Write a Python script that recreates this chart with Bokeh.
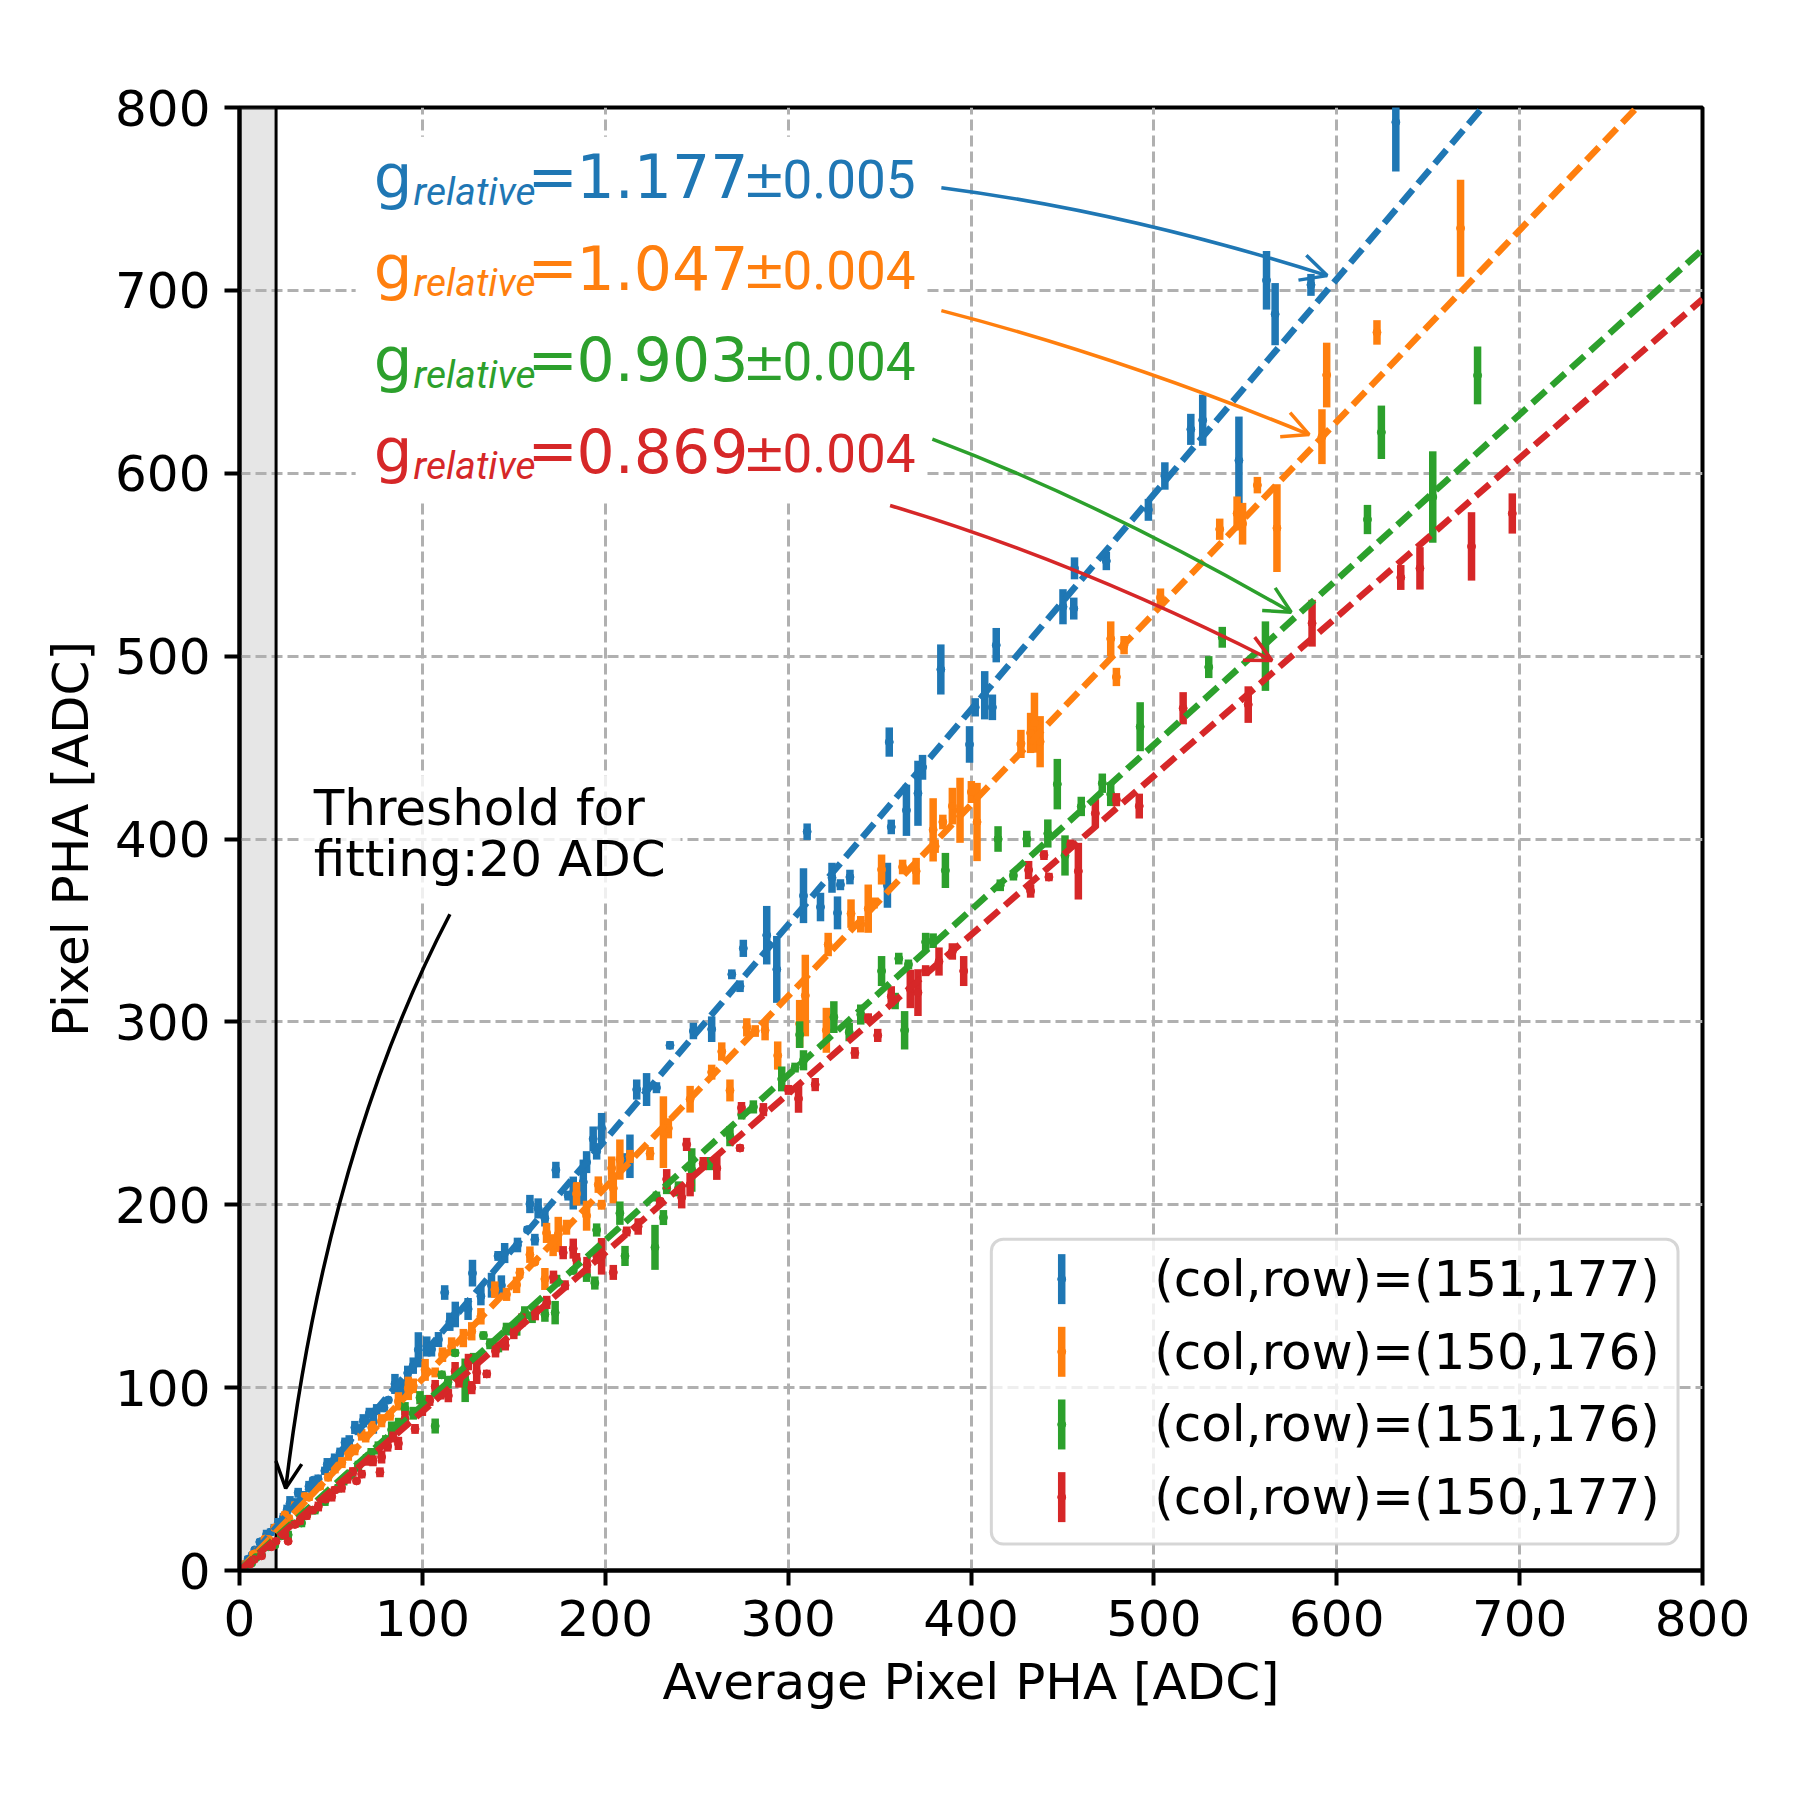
import numpy as np
from bokeh.plotting import figure
from bokeh.models import ColumnDataSource, BoxAnnotation, Arrow, OpenHead, FixedTicker, Range1d
from bokeh.core.properties import value
from bokeh.embed import file_html
from bokeh.resources import INLINE

# ---------------- data ----------------
blue_x = [2, 4.7, 7, 8.4, 11.1, 13, 14.8, 17, 19, 21.2, 24, 26, 27.6, 30, 32.1, 35, 38, 40.3, 43, 46.7,
          48, 52, 55, 57.7, 60, 63.1, 65, 67.7, 71, 73.2, 75, 79, 81.4, 85, 88.7, 92, 95, 97.8, 102.4, 105,
          108.8, 112.2, 115, 118, 125, 127.4, 132, 137.8, 141.4, 143.2, 145, 152, 157.5, 158.8, 161.5, 163.3,
          167, 173, 179.7, 182.5, 188, 189.8, 193.4, 195.3, 198, 210.8, 213.5, 217.2, 222.6, 228, 235.4,
          248.2, 258.2, 269.2, 273.7, 275.5, 288.3, 293.8, 308.4, 310.4, 317.7, 324, 327, 328.6, 333.8,
          354.3, 355.3, 356.4, 364.7, 371, 373.5, 383.5, 399.2, 402.3, 407.5, 411.7, 413.8, 450.3, 456.2,
          456.6, 474, 497, 506, 520.2, 526.7, 546.5, 561.6, 566.3, 585.9, 632.3]
blue_y = [3, 6.2, 8.5, 11.2, 15.6, 16, 19.6, 21, 23, 26, 29, 33, 36.6, 37, 42.5, 41, 46, 49.4, 50, 54.5,
          58, 61, 64.5, 70, 71, 78.2, 77, 81.9, 86, 81.2, 88, 89, 93.2, 102, 98.5, 108, 112, 120.7, 122.5, 121,
          126.3, 152, 136, 140, 143, 162.6, 150, 156, 172, 155.9, 173.6, 178, 186.4, 200.4, 180.9, 198,
          192.6, 219, 205, 206.4, 212.4, 223.3, 236, 229.2, 242, 223.7, 226.5, 263, 263, 264, 287.2,
          295, 296, 326, 319.5, 340.2, 347.4, 328.7, 369, 404, 362.8, 378.8, 359.6, 375, 379.2,
          374.7, 453, 406.6, 415.7, 425, 439.2, 492.7, 451.7, 472, 478.6, 472, 506, 527, 526,
          548, 552, 580, 598.5, 624, 629, 607, 705.5, 687, 703, 792]
blue_e = [1.5, 1.8, 1.5, 1.8, 1.8, 2, 2.7, 2, 2.5, 2.7, 2.5, 3, 4.1, 2.5, 2.7, 2.5, 3, 1.8, 2.5, 2.3,
          3.5, 3, 2.7, 2.7, 3, 3.6, 3, 3.6, 3, 6.4, 3, 2.5, 1.8, 5.5, 5.5, 4, 4.5, 9.6, 5.5, 4,
          4.1, 4, 5, 7, 6, 7.3, 5, 6.8, 2.7, 5.5, 5.5, 4, 2, 5, 3.2, 5.5,
          4.5, 4.5, 2.7, 9, 12.3, 6, 6.8, 4.5, 8.2, 4.5, 11.9, 5.5, 9, 3, 2.3,
          4.5, 7, 2.7, 3.2, 4.7, 16, 18.3, 15, 4.5, 7.8, 8.2, 9, 3, 4,
          12.3, 8, 4, 14, 17.8, 6.8, 13.7, 10, 5, 13.2, 7, 9.4, 9.6, 6,
          6, 5, 6, 7.5, 8.5, 14, 24, 16, 17, 6, 27]

orange_x = [3, 7.5, 10, 13.9, 16, 19.3, 22, 24.8, 27, 30.3, 33, 35.8, 38, 41.2, 44, 48.5, 52.2, 56, 59.5, 63,
            66.8, 69, 72.3, 77.7, 82.3, 86.9, 92.3, 95, 101.5, 107, 111, 116, 122.4, 127, 132, 139.6, 146,
            151.5, 153.3, 158.8, 161.5, 167, 167.9, 171.5, 174.3, 178.8, 184.3, 189.8, 196.2, 198, 203.5,
            204.4, 208, 213.5, 224.5, 231.8, 234.5, 246.4, 258.2, 263.7, 268.2, 277.4, 282, 287.4, 294.3,
            306.3, 309.4, 320.9, 321.9, 334.4, 339.7, 343.8, 347, 351.1, 362.6, 370, 379.3, 380.4, 384.6,
            389.8, 394, 400.2, 403.3, 427.3, 432.6, 434.7, 437.8, 476.4, 479.5, 483.7, 503.6, 536, 545.5,
            548.5, 556.6, 567.3, 591.9, 594.5, 622, 667.7]
orange_y = [3.5, 8.8, 11, 17.2, 17, 23.4, 22.5, 30.5, 28.5, 35.5, 35, 40.4, 40, 46.7, 46, 51, 56.3, 59, 64.5, 66,
            74.2, 73, 78.2, 81.9, 84.6, 92.5, 99.6, 101, 109.7, 108.3, 118, 122.5, 127.1, 130.8, 139, 153.6, 151,
            156.2, 162.8, 172.7, 168.6, 159.4, 184.6, 177.9, 183.8, 187.7, 206, 194, 211, 200, 220,
            209, 224.7, 226.4, 228, 239.7, 241.8, 257.7, 272.5, 283.8, 262.5, 297, 295, 295.4, 281.6,
            299, 314.4, 295.4, 342.3, 359.2, 353.4, 361.9, 365, 383.3, 384.7, 382.4, 405, 396, 409.3,
            418, 415.7, 425.7, 409.3, 452, 458, 463.6, 453.2, 509.5, 488.6, 506, 532, 569.4, 578,
            572.4, 593.5, 570, 620, 653.7, 677, 734]
orange_e = [1.2, 1.8, 1.5, 1.8, 1.5, 1.8, 1.5, 1.8, 2, 2.3, 2, 2.3, 2, 1.4, 2, 2.3, 3.2, 3, 4.5, 3,
            3.2, 3, 3.6, 3.6, 2.7, 5, 6.4, 4, 6, 2.7, 4, 5, 5, 5, 4.5, 4.5, 3.6,
            4.5, 2.7, 4.5, 1.4, 6, 5.5, 6, 9.6, 4.1, 6.4, 8.2, 4.5, 2.7, 6.4,
            8.2, 11, 3.6, 3.6, 19.6, 5.5, 7.3, 4.1, 5, 6, 5, 3.2, 5.5, 7.7,
            13, 22.3, 12.3, 6.4, 7.8, 4.5, 13.2, 3, 8.2, 4, 7.3, 17.3, 3.6, 4,
            10, 17.8, 6, 21.4, 7.7, 11, 16.4, 14, 9.5, 5, 5, 5, 5.8, 9.3,
            11.4, 4.5, 24, 15, 17.7, 6.7, 26.5]

green_x = [3, 6.6, 9, 12, 16, 19.3, 23, 26.6, 30, 33.9, 37, 41.2, 46.7, 50, 54, 57, 61.3, 65, 69.5, 72,
           75.9, 80, 83.2, 87, 90.5, 95, 98.7, 103, 107, 110.6, 114, 117.9, 123.4, 128, 133.4, 137, 141.6,
           146, 151.6, 156, 160, 167, 172.6, 173.4, 182.5, 189.8, 194.3, 195.3, 208, 210.8, 227.2, 228,
           231.8, 233.6, 240, 247.3, 257.3, 268.2, 274.6, 281, 296.5, 303.8, 306.3, 308.4, 325, 333.4,
           339.7, 351.1, 358.5, 360.5, 363.7, 365.8, 375.2, 379.3, 386, 414.8, 416, 423.2, 430.5, 442,
           447.2, 451.4, 460.3, 471.8, 476.4, 492.5, 530, 537.4, 561, 616.8, 624.4, 652.5, 677]
green_y = [2.5, 4, 7, 8.5, 13, 14, 19, 19.5, 25.5, 26, 31, 33, 38, 42, 45, 49, 52.5, 57, 61, 64,
           67, 71, 77, 80, 88.5, 86, 94.5, 93, 79, 107, 103, 119, 104, 116, 128.5, 124, 122,
           132, 132.5, 141, 138.5, 140, 141, 158.5, 164, 161.4, 157.2, 186.2, 195.4, 172, 176.7, 204.5,
           193, 209, 208.7, 219, 222.5, 237.5, 249.3, 253.5, 268.8, 275, 293, 279, 302.6, 294.4,
           304, 327.8, 311.4, 334.6, 295.4, 331.4, 343.7, 344.4, 382.8, 400, 374.7, 380, 400, 403,
           430, 391, 417.8, 430.5, 424.5, 461.4, 494, 510.3, 500, 574.7, 622.4, 587, 653.5]
green_e = [1.2, 1.4, 1.5, 1.8, 1.5, 1.8, 2, 2.3, 2, 2.3, 2, 2.3, 2.7, 2.5, 2.3, 2.5, 2.7, 3, 2.7, 3,
           3.6, 3, 4.5, 3.5, 3.6, 3.5, 3.6, 3, 4.1, 2.3, 3.5, 2, 11.9, 3, 2.3, 3, 2.7,
           3.5, 4.1, 3.5, 3.2, 4, 6.4, 3.2, 1.4, 3.6, 3.6, 3.6, 6.4, 5.5, 12.3, 2.7,
           4.1, 3.2, 4.1, 11.9, 3.6, 5.5, 2.7, 3.6, 6.8, 2.7, 7.3, 5.5, 8.7, 5,
           5.5, 8.2, 4.5, 3.2, 10.5, 2.7, 5, 4, 9.6, 7, 3.2, 2.7, 4.5, 7.7,
           13.8, 11, 5.3, 5.3, 6.5, 13.4, 6, 5.7, 19, 8, 14.6, 25, 15.8]

red_x = [5.7, 8, 12, 17.5, 20, 24.8, 26.6, 30.3, 33, 36.7, 40, 43.1, 47, 50.4, 52, 55.8, 59, 62, 64, 66.8,
         70.4, 73, 76.8, 77.7, 81, 84, 86.9, 90.5, 96, 100, 104, 107, 110, 114.2, 117.9, 120, 125.2, 127,
         129.7, 135.2, 140, 145.3, 150, 154.4, 161.7, 168, 171.7, 177, 178, 182.5, 184.3, 190, 195.3, 198,
         204.4, 211.7, 218, 230, 233.6, 241.8, 244.5, 246.4, 253.6, 261, 273.7, 274.5, 286.5, 300.2, 305.7,
         314.8, 336.5, 343.8, 349, 356.4, 366.8, 371, 375.2, 382.5, 389.8, 396, 431.5, 432.6, 439.9, 442.6,
         454.5, 458.7, 468, 479.5, 492, 516, 551.6, 586.5, 635, 645.5, 673.7, 696]
red_y = [3.6, 6, 8, 13, 16, 19.4, 16, 25.2, 27, 30, 33, 35, 39, 40.4, 44, 45.3, 50, 54, 49, 52.7,
         60, 60, 53.7, 62.1, 68, 73, 69.5, 82.8, 77.4, 88, 93, 100.6, 97, 95.6, 109, 104, 114, 100,
         108.4, 107.5, 120, 123, 130, 137, 140.9, 146.6, 160.4, 173.8, 156, 176, 170, 167, 172.2, 171.8,
         163, 185.4, 188.1, 202, 214, 204, 233, 211, 222.5, 220, 231, 253, 252, 262.8, 258,
         265.7, 283, 302, 292.6, 314, 318, 316, 328, 333, 338.5, 327.8, 383, 371.5, 391.2, 379.2,
         397, 382.4, 414, 421.5, 418, 471.5, 473.5, 518, 543, 548, 560, 578]
red_e = [1.8, 1.5, 1.8, 1.8, 1.5, 2.3, 1, 1.8, 2, 2.3, 2, 2.7, 2, 2.7, 2, 2.7, 2.5, 2.5, 1.8, 2.3,
         2.7, 3, 2.7, 3.6, 3, 3, 3.6, 4.5, 2.7, 3.5, 3, 3.6, 3.5, 3.6, 5, 4, 4.5, 3.6,
         6.4, 2.3, 3.5, 2.7, 3.5, 3.6, 4.1, 3.6, 3.6, 3.6, 2.7, 5.5, 3.6, 4.5, 4.5, 10,
         4.1, 2.7, 4.5, 1.8, 5.5, 6, 3.6, 6.4, 3.6, 6.4, 2, 3.2, 3.6, 2.7, 7.7,
         3.6, 3.2, 2.7, 3.6, 5.5, 10.5, 12.8, 3, 7.7, 4.5, 8.2, 5, 3.6, 2.7, 2.3,
         2.7, 15.5, 7.8, 3.6, 6.8, 8.8, 10, 12.8, 6.8, 11.6, 18.7, 11]

labels = ["(col,row)=(151,177)", "(col,row)=(150,176)", "(col,row)=(151,176)", "(col,row)=(150,177)"]
colors = ["#1f77b4", "#ff7f0e", "#2ca02c", "#d62728"]
gains = [1.177, 1.047, 0.903, 0.869]
gain_errs = [0.005, 0.004, 0.004, 0.004]
threshold = 20
ticks = [0, 100, 200, 300, 400, 500, 600, 700, 800]

series = [(blue_x, blue_y, blue_e), (orange_x, orange_y, orange_e),
          (green_x, green_y, green_e), (red_x, red_y, red_e)]

# ---------------- layout helpers (reference pixel -> data units) ----------------
PX0, PY0, PPU = 238.8, 1570.5, 1463.7 / 800.0
def ux(px):
    return (px - PX0) / PPU
def uy(py):
    return (PY0 - py) / PPU

FONT = "DejaVu Sans"
KB = 0.38  # baseline correction (fraction of font size)

p = figure(width=1784, height=1784, x_range=Range1d(0, 800), y_range=Range1d(0, 800),
           output_backend="svg", toolbar_location=None,
           min_border_left=239, min_border_right=82, min_border_top=107, min_border_bottom=214)
p.background_fill_color = "white"
p.border_fill_color = "white"
p.outline_line_color = "black"
p.outline_line_width = 4
p.outline_line_alpha = 1.0

p.xaxis.ticker = FixedTicker(ticks=ticks)
p.yaxis.ticker = FixedTicker(ticks=ticks)
p.xaxis.axis_label = "Average Pixel PHA [ADC]"
p.yaxis.axis_label = "Pixel PHA [ADC]"
for ax in (p.xaxis[0], p.yaxis[0]):
    ax.axis_line_width = 4
    ax.axis_line_color = "black"
    ax.major_tick_line_width = 4
    ax.major_tick_line_color = "black"
    ax.major_tick_out = 15
    ax.major_tick_in = 0
    ax.minor_tick_line_color = None
    ax.major_label_text_font = FONT
    ax.major_label_text_font_size = "50px"
    ax.major_label_text_color = "black"
    ax.axis_label_text_font = FONT
    ax.axis_label_text_font_size = "50px"
    ax.axis_label_text_font_style = "normal"
    ax.axis_label_text_color = "black"
p.xaxis.major_label_standoff = 14
p.yaxis.major_label_standoff = 14
p.xaxis.axis_label_standoff = 14
p.yaxis.axis_label_standoff = 12

p.grid.grid_line_color = "#b0b0b0"
p.grid.grid_line_width = 3
p.grid.grid_line_dash = "11 5"

def txt(x, y, s, color, size, font=FONT, style="normal", dy=0.0, **kw):
    p.text(x=x, y=y, text=s, text_font=value(font), text_font_style=style,
           text_font_size=value(f"{size}px"), y_offset=dy - KB * size,
           text_color=color, text_baseline="alphabetic", text_align="left", **kw)

# threshold region
p.quad(left=[0], right=[threshold], bottom=[0], top=[800], fill_color="#808080",
       fill_alpha=0.2, line_color=None, level="image")
p.segment(x0=[threshold], y0=[0], x1=[threshold], y1=[800], line_color="black", line_width=3)

# error bars
for (xs, ys, es), c in zip(series, colors):
    xs = np.array(xs, float); ys = np.array(ys, float); es = np.array(es, float)
    src = ColumnDataSource(dict(x=xs, y=ys, lo=ys - es, hi=ys + es))
    p.segment(x0="x", y0="lo", x1="x", y1="hi", source=src, line_color=c, line_width=7.5)
    p.scatter(x="x", y="y", source=src, size=8, color=c, marker="circle")

# fitted lines
for g, c in zip(gains, colors):
    p.line(x=[0, 800], y=[0, g * 800], line_color=c, line_width=6.5, line_dash="18 8")

# gain annotations: white boxes first, then texts
label_base_px = [198.0, 289.5, 381.0, 472.5]
for i in range(len(gains)):
    yb = uy(label_base_px[i])
    p.quad(left=[ux(355)], right=[ux(925)], top=[yb + 62 / PPU], bottom=[yb - 30 / PPU],
           fill_color="white", fill_alpha=1.0, line_color=None)
for i, (g, ge, c) in enumerate(zip(gains, gain_errs, colors)):
    yb = uy(label_base_px[i])
    txt([ux(373)], [yb], ["g"], c, 61)
    txt([ux(413)], [yb], ["relative"], c, 39, font="Roboto", style="italic", dy=8)
    txt([ux(527)], [yb], ["="], c, 60)
    txt([ux(576)], [yb], [f"{g:.3f}"], c, 60)
    txt([ux(742)], [yb], ["\u00b1"], c, 52)
    txt([ux(782)], [yb], [f"{ge:.3f}"], c, 53, font="Roboto")

# curved arrows (start, control, end) in reference pixels
arrows_px = [((941, 187), (1126, 211), (1327, 275)),
             ((941, 310), (1119, 356), (1309, 434)),
             ((932, 438.5), (1102.5, 503), (1291, 611.7)),
             ((889.7, 505), (1073, 559.5), (1271.8, 660))]
def draw_arrow(s, cpt, e, color):
    sx, sy = ux(s[0]), uy(s[1]); cx, cy = ux(cpt[0]), uy(cpt[1]); ex, ey = ux(e[0]), uy(e[1])
    p.quadratic(x0=[sx], y0=[sy], x1=[ex], y1=[ey], cx=[cx], cy=[cy], line_color=color, line_width=3.5)
    bx, by = ex - 0.02 * (ex - cx), ey - 0.02 * (ey - cy)
    p.add_layout(Arrow(end=OpenHead(size=26, line_color=color, line_width=3.5),
                       x_start=bx, y_start=by, x_end=ex, y_end=ey, line_color=color, line_width=3.5))
for (s, cpt, e), c in zip(arrows_px, colors):
    draw_arrow(s, cpt, e, c)

# threshold annotation
p.quad(left=[ux(300)], right=[ux(680)], top=[uy(775)], bottom=[uy(900)],
       fill_color="white", fill_alpha=0.8, line_color=None)
txt([ux(313), ux(313)], [uy(826.6), uy(878)], ["Threshold for", f"fitting:{threshold} ADC"], "black", 50)
draw_arrow((449.3, 914), (326, 1150), (285, 1488.3), "black")

# legend
p.add_layout(BoxAnnotation(left=ux(991), right=ux(1678), top=uy(1239), bottom=uy(1544),
                           fill_color="white", fill_alpha=0.8, line_color="#cccccc", line_alpha=0.8,
                           line_width=3, border_radius=12))
for k, (lab, c) in enumerate(zip(labels, colors)):
    cy_px = 1279 + 72.7 * k
    p.segment(x0=[ux(1061.4)], y0=[uy(cy_px + 25)], x1=[ux(1061.4)], y1=[uy(cy_px - 25)],
              line_color=c, line_width=7.5, level="overlay")
    p.scatter(x=[ux(1061.4)], y=[uy(cy_px)], size=8, color=c, level="overlay")
    txt([ux(1154)], [uy(cy_px + 19)], [lab], "black", 50, level="overlay")

open("out.html", "w").write(file_html(p, INLINE))
